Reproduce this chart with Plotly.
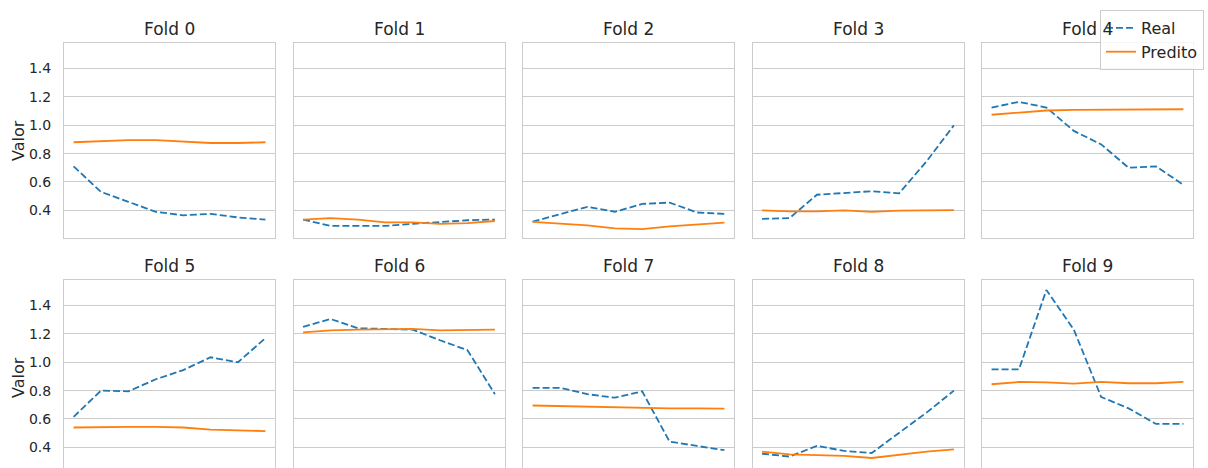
import plotly.graph_objects as go

# Real vs predicted values for each of the ten cross-validation folds
steps = list(range(8))
fold_names = [f"Fold {i}" for i in range(10)]

real_0 = [0.71, 0.53, 0.46, 0.39, 0.365, 0.375, 0.35, 0.335]
real_1 = [0.335, 0.29, 0.29, 0.29, 0.305, 0.32, 0.33, 0.335]
real_2 = [0.32, 0.375, 0.425, 0.39, 0.445, 0.455, 0.385, 0.375]
real_3 = [0.34, 0.345, 0.51, 0.525, 0.535, 0.52, 0.745, 1.0]
real_4 = [1.125, 1.165, 1.125, 0.96, 0.865, 0.70, 0.71, 0.58]
real_5 = [0.615, 0.80, 0.795, 0.88, 0.945, 1.035, 1.0, 1.17]
real_6 = [1.25, 1.305, 1.24, 1.235, 1.23, 1.155, 1.085, 0.775]
real_7 = [0.82, 0.82, 0.775, 0.75, 0.795, 0.44, 0.41, 0.38]
real_8 = [0.355, 0.335, 0.41, 0.375, 0.36, 0.505, 0.645, 0.80]
real_9 = [0.95, 0.95, 1.51, 1.23, 0.755, 0.675, 0.565, 0.565]

pred_0 = [0.88, 0.89, 0.895, 0.895, 0.885, 0.875, 0.875, 0.88]
pred_1 = [0.335, 0.345, 0.335, 0.315, 0.315, 0.305, 0.31, 0.325]
pred_2 = [0.318, 0.306, 0.294, 0.273, 0.268, 0.287, 0.30, 0.313]
pred_3 = [0.40, 0.393, 0.393, 0.40, 0.389, 0.398, 0.40, 0.402]
pred_4 = [1.074, 1.088, 1.104, 1.109, 1.109, 1.11, 1.11, 1.113]
pred_5 = [0.54, 0.545, 0.545, 0.545, 0.54, 0.525, 0.52, 0.515]
pred_6 = [1.21, 1.225, 1.23, 1.23, 1.235, 1.225, 1.225, 1.23]
pred_7 = [0.695, 0.69, 0.685, 0.68, 0.68, 0.675, 0.675, 0.673]
pred_8 = [0.37, 0.35, 0.345, 0.34, 0.325, 0.35, 0.37, 0.385]
pred_9 = [0.845, 0.861, 0.858, 0.85, 0.862, 0.852, 0.852, 0.861]

real_series = [real_0, real_1, real_2, real_3, real_4, real_5, real_6, real_7, real_8, real_9]
pred_series = [pred_0, pred_1, pred_2, pred_3, pred_4, pred_5, pred_6, pred_7, pred_8, pred_9]
y_ticks = [0.4, 0.6, 0.8, 1.0, 1.2, 1.4]

W, H = 1208, 468
TEXT = "#262626"
GRID = "#cccccc"
FONT = "DejaVu Sans"

col_left = [64, 293.5, 523, 752.5, 982]
col_width = 211
row_top = [43, 280]
row_bottom = [238, 468]

y_hi = 1.58
y_lo = 0.205
px_per_unit = (row_bottom[0] - row_top[0]) / (y_hi - y_lo)

fig = go.Figure()
layout = dict(
    width=W, height=H,
    margin=dict(l=0, r=0, t=0, b=0),
    paper_bgcolor="white", plot_bgcolor="white",
    font=dict(family=FONT, color=TEXT),
    showlegend=True,
    legend=dict(
        x=1204 / W, y=1 - 10 / H, xanchor="right", yanchor="top",
        bgcolor="rgba(255,255,255,0.8)", bordercolor=GRID, borderwidth=1,
        font=dict(size=16, color=TEXT, family=FONT),
        tracegroupgap=0, itemwidth=30,
    ),
    annotations=[],
)

for i in range(10):
    r, c = divmod(i, 5)
    n = i + 1
    xname = "x" if n == 1 else f"x{n}"
    yname = "y" if n == 1 else f"y{n}"
    xkey = "xaxis" if n == 1 else f"xaxis{n}"
    ykey = "yaxis" if n == 1 else f"yaxis{n}"

    x0 = col_left[c] / W
    x1 = (col_left[c] + col_width) / W
    y_top = 1 - row_top[r] / H
    y_bot = 1 - row_bottom[r] / H
    lo = y_hi - (row_bottom[r] - row_top[r]) / px_per_unit

    fig.add_trace(go.Scatter(
        x=steps, y=real_series[i], mode="lines", name="Real",
        line=dict(color="#1f77b4", width=1.8, dash="7px,3px"),
        xaxis=xname, yaxis=yname, showlegend=(i == 0),
    ))
    fig.add_trace(go.Scatter(
        x=steps, y=pred_series[i], mode="lines", name="Predito",
        line=dict(color="#ff7f0e", width=1.8),
        xaxis=xname, yaxis=yname, showlegend=(i == 0),
    ))

    layout[xkey] = dict(
        domain=[x0, x1], anchor=yname, range=[-0.35, 7.35],
        showgrid=False, zeroline=False, showticklabels=False, ticks="",
        showline=True, mirror=True, linecolor=GRID, linewidth=1,
    )
    layout[ykey] = dict(
        domain=[y_bot, y_top], anchor=xname, range=[lo, y_hi],
        tickvals=y_ticks, ticktext=[f"{v:.1f}" for v in y_ticks],
        showticklabels=(c == 0), ticks="", ticklabelstandoff=9,
        tickfont=dict(size=14, color=TEXT, family=FONT),
        showgrid=True, gridcolor=GRID, gridwidth=1, zeroline=False,
        showline=True, mirror=True, linecolor=GRID, linewidth=1,
    )

    layout["annotations"].append(dict(
        text=fold_names[i], xref="paper", yref="paper",
        x=(col_left[c] + col_width / 2) / W, y=1 - (row_top[r] - 14) / H,
        xanchor="center", yanchor="middle", showarrow=False,
        font=dict(size=17, color=TEXT, family=FONT),
    ))
    if c == 0:
        layout["annotations"].append(dict(
            text="Valor", xref="paper", yref="paper", textangle=-90,
            x=18 / W, y=1 - (row_top[r] + 98) / H,
            xanchor="center", yanchor="middle", showarrow=False,
            font=dict(size=16, color=TEXT, family=FONT),
        ))

fig.update_layout(**layout)
fig.write_html("out.html")
